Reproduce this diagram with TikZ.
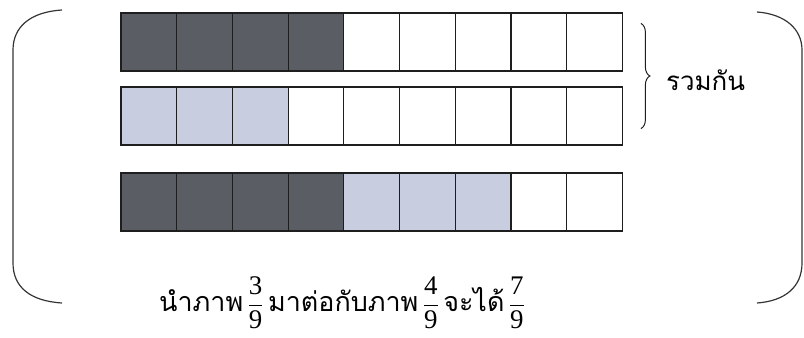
\documentclass[tikz,border=0pt]{standalone}
\usepackage{fontspec}
\setmainfont{Liberation Serif}
\newfontfamily\thaifont[Script=Thai]{Loma}
\usepackage{tikz}
\usetikzlibrary{decorations.pathreplacing,positioning}
\definecolor{darkcell}{RGB}{90,93,100}
\definecolor{lightcell}{RGB}{200,205,224}
\definecolor{inkline}{RGB}{30,30,30}

\begin{document}
\begin{tikzpicture}[x=1bp,y=1bp,
    cell/.style={draw=inkline,line width=1.2bp,minimum width=55.7bp,minimum height=58bp,inner sep=0pt},
    paren/.style={draw=inkline!90,line width=1.2bp},
    lbl/.style={font=\thaifont\fontsize{26}{30}\selectfont,inner sep=0pt}]
  \useasboundingbox (0,0) rectangle (804,337);
  % three strips of nine cells
  \foreach \r/\y/\cols in {1/295/{darkcell,darkcell,darkcell,darkcell,white,white,white,white,white},
                           2/221/{lightcell,lightcell,lightcell,white,white,white,white,white,white},
                           3/135/{darkcell,darkcell,darkcell,darkcell,lightcell,lightcell,lightcell,white,white}}
    \foreach \col [count=\c] in \cols
      \node[cell,fill=\col] (r\r-\c) at ({121+55.7*(\c-0.5)},\y) {};
  % brace joining the first two strips
  \coordinate (bt) at ([xshift=18bp,yshift=-11bp]r1-9.north east);
  \coordinate (bb) at ([xshift=18bp,yshift=17bp]r2-9.south east);
  \draw[inkline,line width=1bp,decorate,decoration={brace,amplitude=9bp}] (bt) -- (bb);
  \node[lbl,anchor=west] (sum) at (666,257) {รวมกัน};
  % big round brackets
  \draw[paren] (62,327) .. controls (30,325) and (13,310) .. (13,287) -- (13,74)
               .. controls (13,50) and (30,36) .. (62,34);
  \draw[paren] (757,325) .. controls (785,323) and (802,308) .. (802,287) -- (802,74)
               .. controls (802,50) and (785,36) .. (757,34);
  % caption
  \node[font=\fontsize{27}{31}\selectfont,inner sep=0pt] (cap) at (342,34)
    {{\thaifont นำภาพ}\,$\displaystyle\frac{\mbox{3}}{\mbox{9}}$\,{\thaifont มาต่อกับภาพ}\,$\displaystyle\frac{\mbox{4}}{\mbox{9}}$\,{\thaifont จะได้}\,$\displaystyle\frac{\mbox{7}}{\mbox{9}}$};
\end{tikzpicture}
\end{document}
